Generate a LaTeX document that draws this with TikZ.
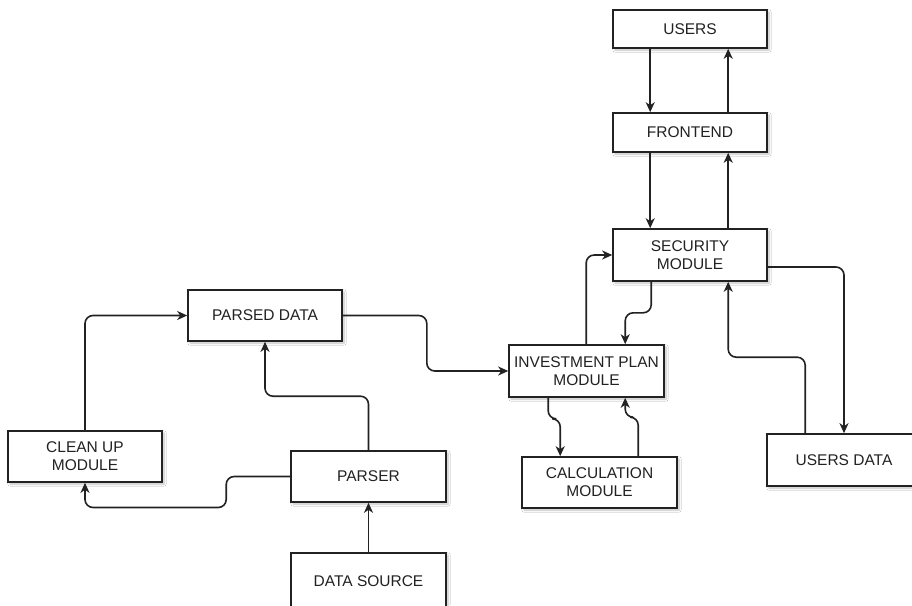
\documentclass[tikz,border=0pt]{standalone}
\usepackage{fontspec}
\setmainfont{Liberation Sans}
\usetikzlibrary{arrows.meta,shadows.blur}
\definecolor{ln}{HTML}{222222}
\tikzset{
  box/.style={draw=ln, line width=1.6pt, fill=white, minimum width=154pt, align=center,
    font=\fontsize{15.5}{18}\selectfont, text=ln, inner sep=0pt,
    blur shadow={shadow xshift=2pt, shadow yshift=-2pt, shadow blur steps=6, shadow opacity=25}},
  arr/.style={draw=ln, line width=1.6pt, rounded corners=8pt,
    -{Stealth[length=10pt,width=9pt,inset=3pt]}}
}
\begin{document}
\begin{tikzpicture}[x=1pt,y=-1pt]
\useasboundingbox (0,0) rectangle (912,605);
\clip (0,0) rectangle (912,605);
\fill[white] (0,0) rectangle (912,605);
% nodes
\node[box, minimum height=38pt] (users) at (690,29) {USERS};
\node[box, minimum height=39pt] (frontend) at (690,132.5) {FRONTEND};
\node[box, minimum height=52pt] (security) at (690,255) {SECURITY\\MODULE};
\node[box, minimum width=155pt, minimum height=52pt] (invest) at (586.5,371) {INVESTMENT PLAN\\MODULE};
\node[box, minimum width=155pt, minimum height=51pt] (calc) at (599.5,482.5) {CALCULATION\\MODULE};
\node[box, minimum height=52pt] (usersdata) at (844,460) {USERS DATA};
\node[box, minimum height=51pt] (parsed) at (265,315.5) {PARSED DATA};
\node[box, minimum height=51pt] (cleanup) at (85,456.5) {CLEAN UP\\MODULE};
\node[box, minimum width=155pt, minimum height=51pt] (parser) at (368.5,476.5) {PARSER};
\node[box, minimum width=155pt, minimum height=56pt] (datasource) at (368.5,581) {DATA SOURCE};
% connectors
\draw[arr] ([xshift=38pt]users.south west) -- ([xshift=38pt]frontend.north west);
\draw[arr] ([xshift=116pt]frontend.north west) -- ([xshift=116pt]users.south west);
\draw[arr] ([xshift=38pt]frontend.south west) -- ([xshift=38pt]security.north west);
\draw[arr] ([xshift=116pt]security.north west) -- ([xshift=116pt]frontend.south west);
\draw[arr] ([yshift=-12pt]security.east) -| (usersdata.north);
\draw[arr] ([xshift=39pt]usersdata.north west) -- ++(0,-76) -| ([xshift=116pt]security.south west);
\draw[arr] ([xshift=39pt]security.south west) -- ++(0,31) -| ([xshift=117pt]invest.north west);
\draw[arr] ([xshift=78pt]invest.north west) |- (security.west);
\draw[arr] ([xshift=40pt]invest.south west) -- ++(0,21) -| ([xshift=39pt]calc.north west);
\draw[arr] ([xshift=117pt]calc.north west) -- ++(0,-39) -| ([xshift=117pt]invest.south west);
\draw[arr] (parsed.east) -- ++(84,0) |- (invest.west);
\draw[arr] (cleanup.north) |- (parsed.west);
\draw[arr] (parser.north) -- ++(0,-54) -| (parsed.south);
\draw[arr] (parser.west) -- ++(-64,0) -- ++(0,31) -| (cleanup.south);
\draw[arr] (datasource.north) -- (parser.south);
\end{tikzpicture}
\end{document}
